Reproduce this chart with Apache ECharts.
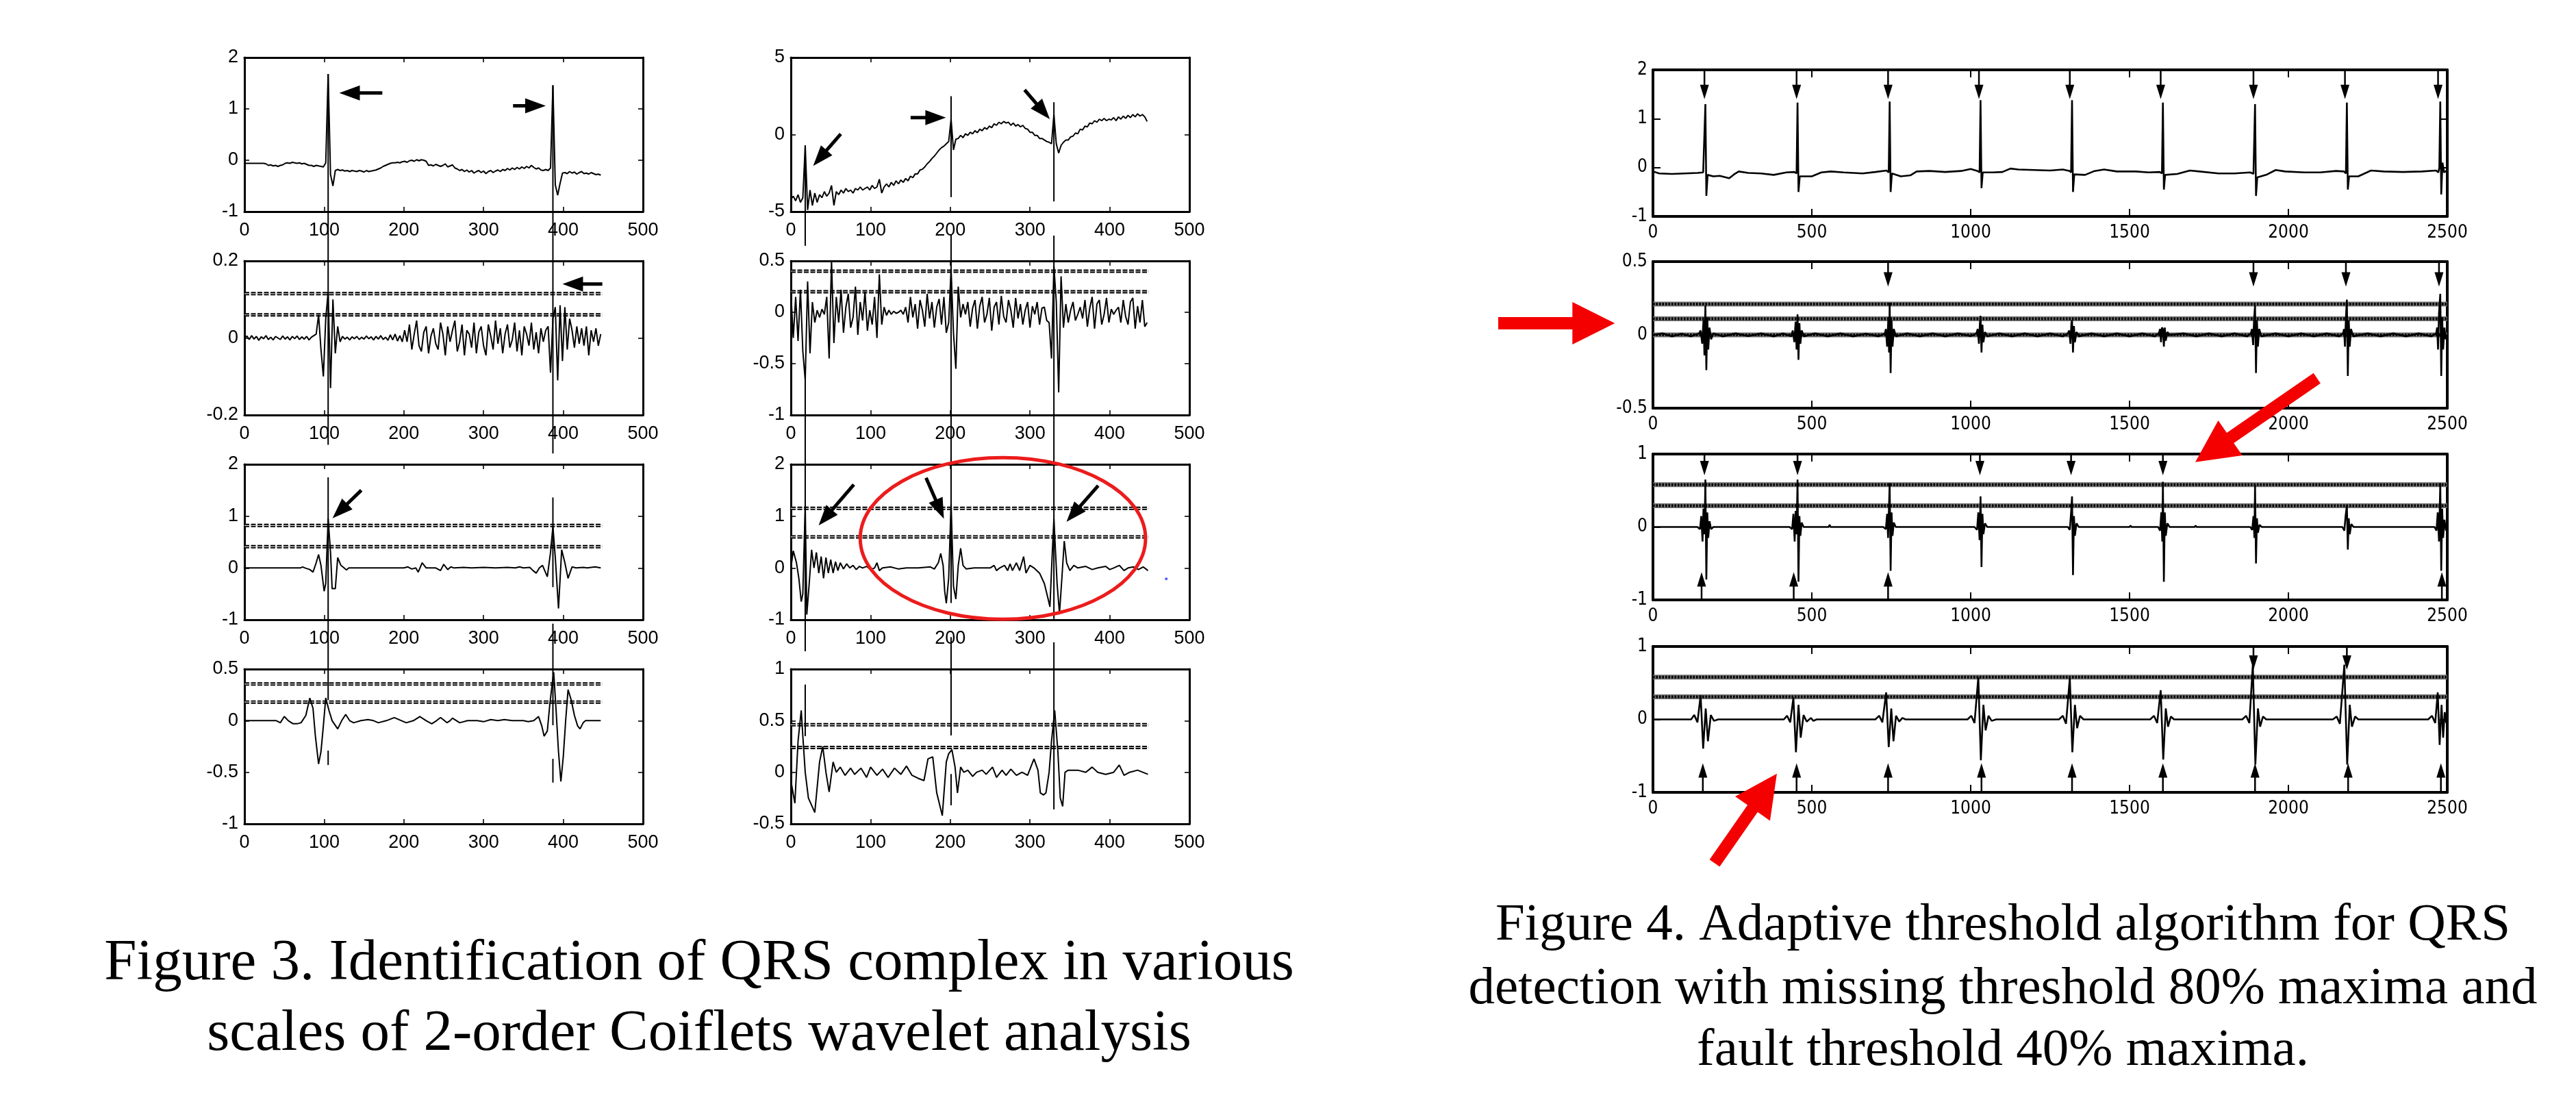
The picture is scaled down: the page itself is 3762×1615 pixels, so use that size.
<!DOCTYPE html>
<html>
<head>
<meta charset="utf-8">
<script src="https://cdn.jsdelivr.net/npm/echarts@6/dist/echarts.min.js"></script>
<style>
html,body{margin:0;padding:0;background:#fff}
#c{width:3762px;height:1615px}
</style>
</head>
<body>
<div id="c"></div>
<script>
// ---- data ----
// Figure 3, noisy scales sampled every 3 samples (x = 0,3,6,...,447)
var STEP = 3;
var sigL1 = [-0.06,-0.06,-0.06,-0.06,-0.06,-0.06,-0.06,-0.06,-0.06,-0.07,
  -0.1,-0.09,-0.11,-0.1,-0.12,-0.1,-0.09,
  -0.06,-0.05,-0.06,-0.04,-0.05,-0.06,-0.05,-0.07,-0.06,-0.08,
  -0.1,-0.1,-0.12,-0.1,-0.11,-0.12,-0.13,
  -0.05,1.68,-0.28,-0.5,-0.2,
  -0.18,-0.2,-0.19,-0.21,-0.2,-0.22,-0.2,-0.21,-0.22,-0.2,-0.21,-0.23,-0.2,-0.22,-0.21,-0.2,-0.19,
  -0.17,-0.15,-0.12,-0.1,-0.08,-0.06,-0.05,
  -0.05,-0.04,-0.05,-0.03,-0.02,-0.04,-0.01,0.0,-0.02,0.01,-0.01,0.01,0.0,-0.02,
  -0.1,-0.09,-0.11,-0.08,-0.1,-0.12,-0.1,-0.07,-0.13,-0.11,-0.09,
  -0.15,-0.17,-0.2,-0.18,-0.22,-0.19,-0.23,-0.2,-0.25,-0.22,-0.2,-0.24,-0.21,-0.26,-0.22,-0.2,-0.24,-0.21,-0.19,-0.22,-0.18,-0.2,-0.16,-0.19,-0.15,-0.18,-0.14,-0.17,
  -0.13,-0.16,-0.12,-0.15,-0.1,-0.14,-0.17,-0.15,-0.19,-0.2,-0.18,
  -0.2,-0.15,1.46,-0.48,-0.68,-0.45,-0.25,
  -0.24,-0.26,-0.22,-0.25,-0.23,-0.27,-0.24,-0.22,-0.26,-0.25,-0.27,-0.24,-0.26,-0.28,-0.27,-0.29];
var sigR1 = [-4.2,-4.0,-4.3,-3.9,-4.4,-4.1,
  -0.7,-4.9,-3.6,-4.6,-3.8,-4.4,
  -3.9,-4.1,-3.7,-4.0,-3.8,-3.3,-4.6,-3.7,-3.9,-3.6,-3.8,-3.5,-3.7,-3.6,-3.8,-3.5,-3.6,-3.4,-3.6,-3.5,-3.4,-3.6,-3.3,-3.5,-3.4,
  -2.9,-3.8,
  -3.4,-3.2,-3.4,-3.1,-3.3,-3.0,-3.2,-2.95,-3.1,-2.85,-3.0,-2.7,-2.8,-2.55,-2.55,-2.3,-2.25,
  -2.1,-1.9,-1.75,-1.55,-1.4,-1.2,-1.0,-0.85,-0.75,-0.6,-0.45,
  1.0,-1.0,-0.3,
  -0.25,-0.05,-0.2,0.05,-0.05,0.15,0.05,0.25,0.12,0.35,0.25,0.45,0.35,0.55,0.45,0.7,0.6,0.8,0.7,0.85,0.75,0.8,0.6,0.75,0.55,0.65,0.5,0.6,0.4,0.35,0.15,0.15,-0.05,-0.05,-0.25,-0.25,
  -0.35,-0.45,-0.5,-0.6,
  1.3,-0.6,-1.2,-0.7,
  -0.5,-0.35,-0.35,-0.15,-0.1,0.1,0.05,0.35,0.3,0.55,0.5,0.75,0.7,0.9,0.8,1.0,0.9,1.05,0.9,1.0,0.95,1.1,0.9,1.15,1.0,1.2,1.05,1.25,1.1,1.3,1.15,1.35,1.2,1.3,1.15,0.85];
var sigL2 = [0.0,0.005,-0.004,0.006,-0.003,0.004,-0.006,0.003,-0.002,0.006,-0.004,0.002,-0.005,0.004,0.0,-0.004,0.005,-0.003,0.003,-0.005,0.004,-0.002,0.005,-0.004,0.003,-0.003,0.004,-0.005,0.002,0.006,
  0.01,0.06,-0.03,-0.1,0.05,0.12,-0.13,0.1,-0.04,0.03,-0.01,
  0.004,-0.003,0.002,-0.005,0.003,-0.002,0.004,-0.004,0.002,-0.003,0.005,-0.002,0.003,-0.005,0.004,-0.003,0.006,-0.004,0.002,-0.006,0.008,-0.005,0.01,-0.008,0.006,-0.01,
  0.02,-0.01,0.035,-0.03,0.01,0.045,-0.02,-0.035,0.015,0.03,-0.04,0.005,0.025,-0.015,-0.03,0.04,0.01,-0.045,0.03,-0.01,0.02,0.045,-0.035,-0.01,0.035,-0.045,0.02,0.01,-0.025,0.04,
  -0.04,0.015,0.03,-0.02,-0.045,0.035,0.005,-0.03,0.045,-0.015,0.025,-0.04,0.01,0.035,-0.025,-0.005,0.04,-0.035,0.02,-0.045,0.03,0.01,-0.02,0.04,-0.03,0.015,-0.04,0.025,-0.01,0.02,
  0.03,-0.09,0.05,0.08,-0.11,0.085,-0.06,0.08,-0.03,0.05,
  0.02,-0.025,0.03,-0.015,0.025,-0.02,0.03,-0.045,0.02,-0.01,0.025,-0.02,0.01];
var sigR2 = [0.2,-0.25,0.15,-0.28,0.22,-0.38,
  -0.66,0.3,-0.4,0.1,-0.1,0.02,
  -0.05,0.03,-0.02,
  0.15,-0.45,0.5,-0.3,
  0.15,-0.1,0.22,-0.2,0.05,0.18,-0.15,-0.05,0.25,-0.22,0.1,-0.08,0.2,-0.18,0.02,-0.12,0.15,
  -0.25,0.37,-0.12,
  0.05,-0.03,0.02,-0.02,0.01,-0.01,0.0,0.02,-0.02,0.05,
  -0.1,0.15,-0.05,0.08,-0.16,0.12,0.02,-0.14,0.18,-0.06,0.1,-0.15,0.05,0.13,-0.12,0.15,-0.2,
  -0.1,0.42,-0.2,-0.55,0.25,-0.05,
  0.08,-0.02,0.1,-0.14,0.04,0.12,-0.16,0.06,0.15,-0.1,-0.02,0.14,-0.18,0.05,0.1,-0.12,0.16,-0.04,-0.1,0.12,0.02,-0.15,0.14,-0.06,0.08,-0.12,0.02,0.1,-0.15,0.06,-0.02,0.1,-0.12,0.04,0.05,-0.08,
  -0.1,-0.45,0.45,0.1,-0.78,0.35,-0.15,
  0.08,-0.1,0.02,0.1,-0.08,-0.02,0.05,-0.06,0.12,-0.14,0.04,0.15,-0.16,0.08,0.12,-0.12,-0.02,0.14,-0.1,0.03,-0.02,0.02,0.05,-0.1,0.12,-0.04,-0.12,0.1,0.14,-0.16,0.06,-0.1,0.12,-0.14,-0.1];

// Figure 3, smoother scales as [x, y]
var sigL3 = [[0,0],[70,0],[73,0.02],[76,0],[82,-0.03],[86,-0.08],[90,0.1],[93,0.26],[96,0.05],[100,-0.45],[102,-0.3],[105,0.95],[108,0.3],[110,-0.4],[114,-0.4],[117,0.2],[121,0.05],[125,0],[128,-0.04],[131,0],[200,0],[205,0.02],[210,-0.02],[215,0],[218,-0.08],[223,0.1],[228,0],[240,0],[246,-0.05],[250,0.07],[255,-0.03],[259,0.02],[263,0],[275,0.01],[285,0],[300,0.01],[315,0],[330,0.01],[340,0],[345,0.02],[350,0],[358,0.01],[362,-0.05],[366,-0.1],[370,0.0],[374,0.05],[380,-0.17],[384,0.3],[387,0.8],[390,0.2],[394,-0.78],[398,0.35],[402,0.1],[406,-0.2],[411,0.02],[416,0],[425,0.01],[430,0],[440,0.02],[447,0]];
var sigR3 = [[0,0.0],[3,0.33],[7,0.1],[10,-0.2],[13,-0.65],[15,-0.5],[18,1.2],[20,-0.9],[23,-0.3],[26,0.35],[29,0.0],[32,0.3],[35,-0.1],[38,0.22],[41,-0.2],[44,0.2],[47,-0.1],[50,0.16],[53,-0.1],[56,0.12],[59,-0.05],[62,0.1],[66,-0.02],[70,0.08],[74,0.0],[78,0.05],[82,-0.03],[86,0.03],[90,0.0],[95,0.03],[100,-0.03],[105,0.0],[108,0.1],[111,-0.05],[115,0.0],[125,0.02],[135,-0.02],[145,0.0],[160,0.0],[175,0.02],[180,-0.02],[185,0.1],[188,0.28],[191,0.05],[193,-0.45],[195,-0.68],[198,-0.2],[201,1.25],[204,-0.35],[207,-0.6],[210,0.05],[213,0.38],[216,0.05],[220,-0.02],[230,0.0],[250,0.0],[255,0.05],[258,-0.05],[262,0.0],[268,0.05],[272,-0.05],[275,0.08],[278,-0.05],[283,0.1],[287,-0.05],[292,0.22],[295,-0.1],[300,0.05],[305,0.0],[312,-0.1],[318,-0.3],[322,-0.55],[325,-0.75],[328,0.3],[330,0.95],[334,-0.3],[337,-0.88],[340,-0.2],[343,0.52],[346,0.1],[350,-0.05],[355,0.05],[360,0.0],[370,0.03],[378,-0.03],[385,0.0],[395,0.03],[400,-0.03],[405,0.0],[412,0.05],[418,-0.05],[423,0.0],[430,0.02],[436,-0.03],[442,0.02],[448,-0.05]];
var sigL4 = [[0,0],[40,0],[45,-0.02],[50,0.04],[55,0.0],[61,-0.03],[66,-0.03],[71,-0.02],[77,0.05],[82,0.22],[86,0.12],[89,-0.15],[93,-0.42],[96,-0.3],[99,-0.05],[102,0.22],[106,0.1],[110,0.0],[117,-0.08],[122,0.0],[127,0.06],[132,0.0],[137,-0.02],[146,0.0],[155,0.01],[162,0.0],[168,-0.02],[178,0.0],[188,0.03],[197,0.0],[203,-0.02],[212,0.0],[220,0.04],[228,0.0],[235,-0.03],[241,0.0],[246,0.03],[251,0.0],[254,-0.02],[258,0.0],[261,0.025],[266,0.0],[270,-0.02],[280,0.0],[292,0.0],[300,-0.01],[309,0.01],[318,0.0],[326,0.01],[336,0.0],[350,0.0],[356,-0.01],[363,0.0],[369,0.04],[373,-0.05],[376,-0.15],[380,-0.1],[383,0.15],[386,0.35],[388,0.47],[391,0.1],[394,-0.3],[397,-0.59],[400,-0.35],[403,0.0],[406,0.3],[410,0.2],[414,0.05],[418,-0.05],[421,-0.08],[425,-0.02],[428,0.0],[447,0.0]];
var sigR4 = [[0,-0.08],[5,-0.3],[9,0.3],[13,0.6],[15,0.35],[18,0.0],[22,-0.25],[30,-0.39],[36,0.1],[40,0.25],[44,0.0],[48,-0.19],[53,0.1],[57,0.0],[62,0.05],[68,-0.03],[75,0.04],[80,-0.02],[88,0.04],[95,-0.05],[100,0.05],[108,-0.03],[115,0.03],[122,-0.05],[130,0.04],[138,-0.02],[145,0.06],[152,-0.03],[160,-0.06],[167,-0.08],[172,0.13],[178,0.15],[183,-0.2],[190,-0.42],[195,0.1],[198,0.18],[202,0.22],[206,0.05],[209,-0.2],[213,0.05],[217,0.0],[222,0.02],[228,-0.04],[233,0.0],[240,0.02],[245,-0.02],[253,0.05],[258,-0.05],[265,0.02],[270,-0.03],[276,0.03],[283,-0.03],[290,0.0],[297,-0.03],[305,0.13],[310,0.02],[313,-0.2],[317,-0.22],[320,-0.2],[324,0.0],[327,0.3],[331,0.6],[335,0.2],[338,-0.25],[341,-0.33],[344,0.0],[348,0.02],[360,0.02],[370,0.0],[378,0.05],[385,0.0],[395,-0.02],[405,0.0],[412,0.07],[418,-0.03],[425,0.0],[435,0.02],[448,-0.02]];

// Figure 4 signals as [x, y]
var sigF4a = [[0,-0.08],[20,-0.12],[60,-0.13],[100,-0.12],[140,-0.11],[158,-0.1],[162,-0.12],[165,1.3],[168,-0.58],[172,-0.15],[190,-0.18],[210,-0.17],[240,-0.22],[255,-0.14],[270,-0.08],[300,-0.11],[340,-0.12],[380,-0.15],[420,-0.1],[445,-0.09],[452,-0.12],[455,1.33],[458,-0.5],[462,-0.18],[500,-0.18],[530,-0.1],[560,-0.08],[600,-0.1],[660,-0.12],[700,-0.09],[735,-0.06],[742,-0.1],[745,1.35],[748,-0.5],[752,-0.12],[780,-0.18],[810,-0.16],[830,-0.08],[870,-0.07],[920,-0.09],[970,-0.07],[1000,-0.03],[1022,-0.07],[1028,-0.1],[1031,1.38],[1034,-0.42],[1038,-0.1],[1070,-0.1],[1100,-0.09],[1125,-0.02],[1150,-0.04],[1200,-0.05],[1250,-0.06],[1290,-0.04],[1312,-0.07],[1316,-0.1],[1319,1.38],[1322,-0.5],[1326,-0.14],[1360,-0.15],[1390,-0.07],[1420,-0.04],[1460,-0.08],[1520,-0.08],[1560,-0.1],[1595,-0.09],[1602,-0.12],[1605,1.33],[1608,-0.45],[1612,-0.15],[1650,-0.13],[1690,-0.06],[1720,-0.08],[1780,-0.12],[1830,-0.12],[1880,-0.1],[1890,-0.13],[1895,1.3],[1898,-0.58],[1902,-0.2],[1930,-0.15],[1960,-0.05],[1990,-0.08],[2050,-0.1],[2100,-0.1],[2150,-0.07],[2175,-0.08],[2181,-0.12],[2184,1.33],[2187,-0.45],[2191,-0.18],[2220,-0.18],[2260,-0.06],[2300,-0.08],[2360,-0.09],[2420,-0.08],[2465,-0.06],[2472,-0.1],[2475,0.0],[2478,1.35],[2481,-0.55],[2485,0.1],[2490,-0.1],[2500,-0.05]];
var sigF4b = [[0,0.0],[30,0.01],[60,-0.01],[90,0.008],[120,-0.01],[145,0.01],
  [150,0.03],[155,-0.06],[159,0.1],[162,-0.14],[165,0.2],[168,-0.24],[171,0.12],[174,-0.1],[178,0.05],[183,-0.03],[190,0.01],
  [220,-0.01],[260,0.01],[300,-0.008],[340,0.01],[380,-0.01],[410,0.01],[435,-0.01],
  [440,0.03],[445,-0.05],[449,0.09],[452,-0.1],[455,0.14],[458,-0.17],[461,0.08],[464,-0.06],[468,0.03],[475,-0.01],
  [510,0.01],[550,-0.01],[590,0.01],[630,-0.01],[670,0.008],[710,-0.01],[730,0.01],
  [733,0.04],[737,-0.08],[741,0.12],[743,-0.12],[745,0.22],[748,-0.26],[751,0.1],[754,-0.08],[758,0.04],[765,-0.01],
  [800,0.01],[840,-0.01],[880,0.01],[920,-0.01],[960,0.01],[1000,-0.008],[1018,0.01],
  [1022,0.04],[1026,-0.06],[1029,0.08],[1031,0.13],[1034,-0.12],[1037,0.07],[1040,-0.05],[1045,0.02],[1052,-0.01],
  [1090,0.01],[1130,-0.01],[1170,0.01],[1210,-0.01],[1250,0.01],[1290,-0.01],[1306,0.01],
  [1310,0.03],[1314,-0.06],[1317,0.08],[1319,0.1],[1322,-0.12],[1325,0.06],[1328,-0.05],[1333,0.02],[1340,-0.01],
  [1380,0.01],[1420,-0.01],[1460,0.01],[1500,-0.01],[1540,0.01],[1580,-0.01],[1592,0.01],
  [1596,0.04],[1599,-0.05],[1602,0.05],[1605,0.04],[1608,-0.08],[1611,0.05],[1614,-0.04],[1619,0.02],[1626,0.0],
  [1670,0.01],[1710,-0.01],[1750,0.01],[1790,-0.01],[1830,0.01],[1870,-0.01],[1882,0.01],
  [1885,0.04],[1889,-0.07],[1892,0.11],[1895,0.2],[1898,-0.26],[1901,0.1],[1904,-0.08],[1908,0.04],[1915,-0.01],
  [1960,0.01],[2000,-0.01],[2040,0.01],[2080,-0.01],[2120,0.01],[2160,-0.01],[2172,0.01],
  [2175,0.04],[2178,-0.08],[2181,0.12],[2184,0.24],[2187,-0.28],[2190,0.1],[2193,-0.08],[2197,0.04],[2204,-0.01],
  [2250,0.01],[2290,-0.01],[2330,0.01],[2370,-0.01],[2410,0.01],[2450,-0.01],[2465,0.01],
  [2468,0.05],[2471,-0.1],[2474,0.15],[2478,0.28],[2481,-0.28],[2484,0.12],[2487,-0.1],[2491,0.05],[2495,-0.03],[2500,0.0]];
var sigF4c = [[0,0.0],[140,0.0],[148,-0.03],[152,0.15],[156,-0.2],[159,0.25],[162,-0.1],[165,0.65],[168,-0.72],[171,0.2],[174,-0.15],[178,0.08],[183,-0.03],[190,0.0],
  [430,0.0],[438,-0.03],[442,0.18],[446,-0.2],[449,0.22],[452,-0.1],[455,0.65],[458,-0.75],[461,0.15],[464,-0.12],[468,0.06],[474,0.0],
  [553,0.0],[556,0.03],[559,0.0],
  [725,0.0],[733,-0.03],[737,0.18],[740,-0.15],[743,0.3],[745,0.6],[748,-0.6],[751,0.2],[754,-0.12],[758,0.06],[764,0.0],
  [1012,0.0],[1020,-0.04],[1024,0.2],[1028,-0.18],[1031,0.42],[1034,-0.55],[1037,0.18],[1040,-0.1],[1045,0.05],[1052,0.0],
  [1306,0.0],[1312,-0.04],[1316,0.2],[1319,0.42],[1322,-0.66],[1325,0.15],[1328,-0.12],[1333,0.05],[1340,0.0],
  [1500,0.0],[1503,0.02],[1506,0.0],
  [1590,0.0],[1596,-0.05],[1600,0.2],[1603,-0.2],[1605,0.62],[1608,-0.75],[1611,0.2],[1614,-0.12],[1619,0.05],[1626,0.0],
  [1705,0.0],[1708,0.02],[1711,0.0],
  [1880,0.0],[1886,-0.04],[1890,0.15],[1893,-0.15],[1895,0.58],[1898,-0.5],[1901,0.12],[1904,-0.08],[1909,0.03],[1916,0.0],
  [2170,0.0],[2176,-0.05],[2180,0.15],[2184,0.3],[2187,-0.31],[2190,0.12],[2193,-0.1],[2198,0.04],[2205,0.0],
  [2460,0.0],[2466,-0.05],[2470,0.2],[2474,-0.2],[2478,0.6],[2481,-0.6],[2484,0.25],[2487,-0.15],[2491,0.1],[2496,-0.05],[2500,0.0]];
var sigF4d = [[0,0],[120,0],[130,0.06],[140,-0.04],[150,0.33],[158,-0.4],[166,0.15],[173,-0.3],[182,0.06],[192,-0.02],[205,0],
  [412,0],[422,0.05],[432,-0.04],[442,0.3],[450,-0.45],[458,0.2],[465,-0.25],[474,0.06],[484,-0.03],[497,0.02],[505,-0.02],[515,0],
  [700,0],[712,0.05],[722,-0.04],[734,0.37],[742,-0.38],[750,0.15],[757,-0.3],[765,0.05],[775,-0.03],[785,0.02],[795,0],
  [990,0],[1002,0.05],[1012,-0.05],[1024,0.58],[1032,-0.56],[1040,0.2],[1047,-0.15],[1056,0.05],[1066,-0.02],[1080,0],
  [1278,0],[1290,0.05],[1300,-0.06],[1312,0.57],[1320,-0.45],[1328,0.2],[1335,-0.12],[1344,0.05],[1355,0],
  [1565,0],[1577,0.05],[1587,-0.05],[1598,0.4],[1606,-0.55],[1614,0.15],[1621,-0.1],[1630,0.04],[1640,0],
  [1855,0],[1867,0.05],[1877,-0.05],[1888,0.75],[1896,-0.62],[1904,0.15],[1911,-0.1],[1920,0.04],[1930,0],
  [2140,0],[2152,0.04],[2162,-0.06],[2176,0.75],[2185,-0.62],[2193,0.2],[2200,-0.1],[2210,0.04],[2220,0],
  [2440,0],[2452,0.05],[2462,-0.05],[2470,0.37],[2476,-0.35],[2482,0.2],[2487,-0.25],[2492,0.1],[2497,-0.05],[2500,0]];

// threshold levels per panel (order: L1,R1,L2,R2,L3,R3,L4,R4, fig4 rows 1-4)
var thresholds = [[],[],[0.115,0.06],[0.4,0.2],[0.82,0.41],[1.15,0.6],[0.355,0.18],[0.46,0.24],[],[0.21,0.11,0],[0.58,0.29],[0.58,0.31]];

// tick labels: [min, max, step] of y, per panel
var yTicks = [[-1,2,1],[-5,5,5],[-0.2,0.2,0.2],[-1,0.5,0.5],[-1,2,1],[-1,2,1],[-1,0.5,0.5],[-0.5,1,0.5],[-1,2,1],[-0.5,0.5,0.5],[-1,1,1],[-1,1,1]];
var xTicksF3 = [0,500,100];
var xTicksF4 = [0,2500,500];

// vertical detection lines [panel, x, yFrom, yTo]
var guides = [[0,105,1.68,-5.54],[4,105,1.75,-2.55],[6,105,-0.29,-0.43],
  [0,387,1.46,-5.71],[4,387,1.36,-0.37],[6,387,0.94,-0.044],[6,387,-0.37,-0.6],
  [1,18,-0.7,-7.22],[3,18,-0.66,-3.3],[7,18,0.85,0.35],
  [1,201,2.49,-4.06],[3,201,0.76,-2.83],[7,201,1.31,0.357],[7,201,-0.017,-0.32],
  [1,330,2.1,-4.34],[3,330,0.747,-2.985],[7,330,1.26,-0.36]];

// black annotation arrows in figure 3 [panel, xTail, yTail, xTip, yTip]
var blackArrows = [[0,173,1.31,119,1.31],[0,337,1.06,378,1.06],[2,449,0.14,399,0.14],[4,146.6,1.5,110.5,0.96],
  [1,62.6,0.04,28,-2.03],[1,150.2,1.1,194.5,1.1],[1,293.2,2.9,324.9,1.0],
  [5,79,1.61,34.8,0.82],[5,169.6,1.74,192,0.95],[5,385.6,1.59,345.8,0.89]];
// detection markers in figure 4 [panel, yFrom, yTo, x positions]
var markerArrows = [[8,2,1.4,[162,452,740,1026,1312,1598,1890,2178,2471]],
  [9,0.5,0.33,[740,1890,2181,2474]],
  [10,1,0.71,[162,455,1029,1316,1605]],
  [10,-1,-0.62,[153,443,740,2483]],
  [11,1,0.68,[1890,2184]],
  [11,-1,-0.6,[157,452,740,1034,1319,1605,1895,2188,2480]]];
// red call-outs [panel, xTail, yTail, xTip, yTip]
var redArrows = [[9,-487,0.08,-120,0.08],[10,2090,2.04,1707,0.89],[11,194,-1.97,390,-0.745]];
var redEllipse = [5,266,0.57,179,1.56];
var blueDot = [5,471,-0.21];

var captions = [
  {x:1021, y:1408, size:85, text:'Figure 3. Identification of QRS complex in various'},
  {x:1021, y:1511, size:85, text:'scales of 2-order Coiflets wavelet analysis'},
  {x:2925, y:1352, size:77, text:'Figure 4. Adaptive threshold algorithm for QRS'},
  {x:2925, y:1445, size:77, text:'detection with missing threshold 80% maxima and'},
  {x:2925, y:1535, size:77, text:'fault threshold 40% maxima.'}
];

// ---- layout ----
var f3Rows = [[84,225],[381,225],[678,227],[977,226]];
var f4Rows = [[102,214],[382,214],[663,213],[944,213]];
var panels = [];
f3Rows.forEach(function(r){
  panels.push({fig:3, left:357, top:r[0], w:582, h:r[1]});
  panels.push({fig:3, left:1155, top:r[0], w:582, h:r[1]});
});
f4Rows.forEach(function(r){
  panels.push({fig:4, left:2414, top:r[0], w:1160, h:r[1]});
});

function stepped(arr){
  var out = [];
  for (var i = 0; i < arr.length; i++) out.push([i*STEP, arr[i]]);
  return out;
}
var signals = [stepped(sigL1), stepped(sigR1), stepped(sigL2), stepped(sigR2), sigL3, sigR3, sigL4, sigR4, sigF4a, sigF4b, sigF4c, sigF4d];

function line(p, data, style, clip, z){
  return {type:'line', xAxisIndex:2*p, yAxisIndex:2*p, data:data, symbol:'none', silent:true,
    clip: clip !== false, z: z || 2, animation:false, lineStyle:style};
}
function plain(v){ return String(v); }

var grids = [], xAxes = [], yAxes = [], series = [];
panels.forEach(function(pn, p){
  var f3 = pn.fig === 3;
  var xt = f3 ? xTicksF3 : xTicksF4, yt = yTicks[p];
  var lw = f3 ? 3 : 4;
  var axLine = {show:true, onZero:false, lineStyle:{color:'#000', width:lw}};
  var tick = {show:true, inside:true, length: f3 ? 7 : 11, lineStyle:{color:'#000', width: f3 ? 1.6 : 2}};
  var fam = f3 ? '"Liberation Sans", Arial, sans-serif' : '"Liberation Sans Narrow", "DejaVu Sans Condensed", "Liberation Sans", sans-serif';
  var lab = {color:'#000', fontSize: f3 ? 27 : 26, fontFamily: fam, formatter: plain};
  grids.push({left:pn.left, top:pn.top, width:pn.w, height:pn.h, containLabel:false, outerBoundsMode:'none'});
  ['bottom','top'].forEach(function(pos){
    xAxes.push({type:'value', gridIndex:p, position:pos, min:xt[0], max:xt[1], interval:xt[2],
      axisLine:axLine, axisTick:tick, splitLine:{show:false},
      axisLabel: pos === 'bottom' ? Object.assign({margin: f3 ? 14 : 11}, lab) : {show:false}});
  });
  ['left','right'].forEach(function(pos){
    yAxes.push({type:'value', gridIndex:p, position:pos, min:yt[0], max:yt[1], interval:yt[2],
      axisLine:axLine, axisTick:tick, splitLine:{show:false},
      axisLabel: pos === 'left' ? Object.assign({margin: f3 ? 9 : 8}, lab) : {show:false}});
  });
  var xEnd = f3 ? 449 : 2500;
  thresholds[p].forEach(function(t){
    var d = [[0,t],[xEnd,t]];
    if (f3) {
      series.push(line(p, d, {color:'#000', width:5, type:[7,2.5]}));
      series.push(line(p, d, {color:'#d8d8d8', width:1.2}));
    } else {
      series.push(line(p, d, {color:'#6e6e6e', width:7}));
      series.push(line(p, d, {color:'#000', width:4, type:[2.5,2]}));
    }
  });
  series.push(line(p, signals[p], {color:'#000', width: f3 ? 2 : 2.6}, true, 3));
});
guides.forEach(function(g){
  series.push(line(g[0], [[g[1],g[2]],[g[1],g[3]]], {color:'#000', width:2}, false, 4));
});
series.push({type:'scatter', xAxisIndex:2*blueDot[0], yAxisIndex:2*blueDot[0], data:[[blueDot[1], blueDot[2]]],
  symbolSize:4, itemStyle:{color:'#2233ff'}, silent:true, animation:false});

var chart = echarts.init(document.getElementById('c'));
chart.setOption({
  animation:false,
  backgroundColor:'#fff',
  grid:grids, xAxis:xAxes, yAxis:yAxes, series:series
});

// ---- annotations placed through the chart's own scales ----
function px(p, x, y){
  return chart.convertToPixel({xAxisIndex:2*p, yAxisIndex:2*p}, [x, y]);
}
function arrow(p, x1, y1, x2, y2, shaft, headLen, headW, color){
  var a = px(p, x1, y1), b = px(p, x2, y2);
  var dx = b[0]-a[0], dy = b[1]-a[1], len = Math.sqrt(dx*dx+dy*dy);
  var ux = dx/len, uy = dy/len, nx = -uy, ny = ux;
  var bx = b[0]-ux*headLen, by = b[1]-uy*headLen;
  var pts = [
    [a[0]+nx*shaft/2, a[1]+ny*shaft/2], [bx+nx*shaft/2, by+ny*shaft/2], [bx+nx*headW/2, by+ny*headW/2],
    [b[0], b[1]],
    [bx-nx*headW/2, by-ny*headW/2], [bx-nx*shaft/2, by-ny*shaft/2], [a[0]-nx*shaft/2, a[1]-ny*shaft/2]
  ];
  return {type:'polygon', shape:{points:pts}, style:{fill:color}, silent:true, z:100};
}
var graphics = [];
blackArrows.forEach(function(a){ graphics.push(arrow(a[0], a[1], a[2], a[3], a[4], 5, 30, 22, '#000')); });
markerArrows.forEach(function(m){
  m[3].forEach(function(x){ graphics.push(arrow(m[0], x, m[1], x, m[2], 2.5, 21, 13, '#000')); });
});
redArrows.forEach(function(a){ graphics.push(arrow(a[0], a[1], a[2], a[3], a[4], 18, 62, 62, '#f40000')); });
var ec = px(redEllipse[0], redEllipse[1], redEllipse[2]);
var ex = px(redEllipse[0], redEllipse[1]+redEllipse[3], redEllipse[2]);
var ey = px(redEllipse[0], redEllipse[1], redEllipse[2]+redEllipse[4]);
graphics.push({type:'ellipse', shape:{cx:ec[0], cy:ec[1], rx:ex[0]-ec[0], ry:ec[1]-ey[1]},
  style:{fill:'none', stroke:'#ec1c1c', lineWidth:5}, silent:true, z:100});
captions.forEach(function(c){
  graphics.push({type:'text', x:c.x, y:c.y, silent:true, z:100,
    style:{text:c.text, fontSize:c.size, fontFamily:'"Liberation Serif", "Times New Roman", serif', fill:'#000',
      align:'center', verticalAlign:'middle', textAlign:'center', textVerticalAlign:'middle'}});
});
chart.setOption({graphic:graphics});
window.onresize = chart.resize;
</script>
</body>
</html>
